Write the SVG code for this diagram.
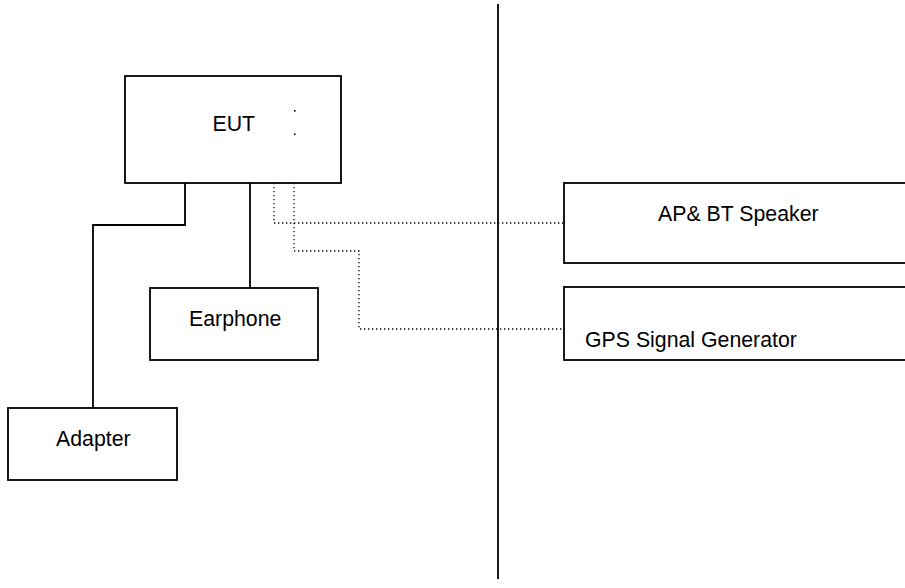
<svg xmlns="http://www.w3.org/2000/svg" width="905" height="588" viewBox="0 0 905 588">
<style>
.box{fill:#fff;stroke:#000;stroke-width:1.8}
.ln{fill:none;stroke:#000;stroke-width:1.8}
.dot{fill:none;stroke:#000;stroke-width:1.3;stroke-dasharray:1.3 2.7}
text{font-family:"Liberation Sans",Arial,sans-serif;font-size:21.3px;fill:#000}
</style>
<rect width="905" height="588" fill="#fff"/>
<g id="connectors">
<line class="ln" x1="498" y1="4" x2="498" y2="579"/>
<polyline class="ln" points="185,183 185,225 93,225 93,408"/>
<line class="ln" x1="250" y1="183" x2="250" y2="288"/>
<polyline class="dot" points="274,183 274,223 564,223"/>
<polyline class="dot" points="294,183 294,251 359,251 359,329 564,329"/>
</g>
<g id="eut">
<rect class="box" x="125" y="76" width="216" height="107"/>
<text x="212.5" y="131">EUT</text>
<rect x="294" y="110" width="1.6" height="1.6" fill="#000"/>
<rect x="294" y="133.5" width="1.6" height="1.6" fill="#000"/>
</g>
<g id="earphone">
<rect class="box" x="150" y="288" width="168" height="72"/>
<text x="189" y="326">Earphone</text>
</g>
<g id="adapter">
<rect class="box" x="8" y="408" width="169" height="72"/>
<text x="56" y="446">Adapter</text>
</g>
<g id="ap-bt-speaker">
<rect class="box" x="564" y="183" width="350" height="80"/>
<text x="658" y="221">AP&amp; BT Speaker</text>
</g>
<g id="gps">
<rect class="box" x="564" y="287" width="350" height="73"/>
<text x="585" y="347">GPS Signal Generator</text>
</g>
</svg>
